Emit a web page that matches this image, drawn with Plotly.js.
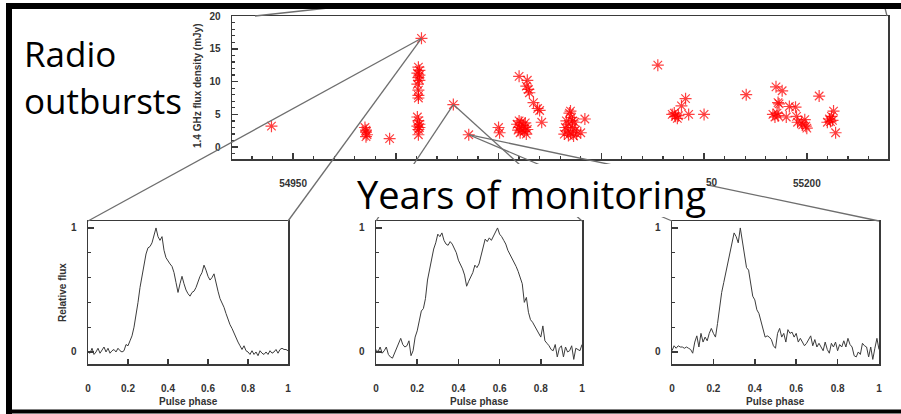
<!DOCTYPE html>
<html>
<head>
<meta charset="utf-8">
<script src="https://cdn.plot.ly/plotly-3.0.1.min.js"></script>
<style>
  html, body { margin: 0; padding: 0; background: #fff; }
  #chart { width: 901px; height: 414px; }
</style>
</head>
<body>
<div id="chart"></div>
<script>
// ---- Radio monitoring: 1.4 GHz flux density per epoch (MJD, mJy) ----
const mjd = [
  54939.5,
  54985.0, 54985.5, 54985.5, 54986.0, 54985.5,
  54997.0,
  55011.0, 55011.5, 55010.5, 55011.5, 55011.0, 55011.5, 55010.5, 55011.0, 55011.0, 55011.0,
  55010.5, 55011.0, 55011.5, 55010.5, 55011.5, 55011.0, 55011.0,
  55012.5, 55028.0, 55035.5,
  55050.0, 55050.5,
  55059.0, 55059.5, 55060.0, 55060.5, 55061.0, 55061.5, 55062.0, 55062.5, 55063.0, 55063.5, 55064.0, 55060.0, 55063.0,
  55060.0, 55064.0, 55063.5, 55064.5, 55065.0, 55067.0, 55069.0, 55070.0, 55071.0,
  55082.0, 55082.5, 55083.0, 55083.5, 55084.0, 55084.5, 55085.0, 55085.5, 55086.0, 55086.5, 55087.0, 55087.5, 55088.0, 55085.0, 55092.0, 55090.0, 55084.0, 55086.0,
  55127.5,
  55134.5, 55136.0, 55137.5, 55135.5, 55137.0, 55139.0, 55141.0, 55142.5, 55150.0,
  55170.5,
  55185.0, 55188.0, 55186.0, 55186.5, 55183.5, 55184.5, 55185.5, 55186.0, 55190.0, 55191.5, 55194.5, 55195.0, 55195.5, 55197.5, 55199.0, 55199.5, 55200.0, 55198.0,
  55206.0,
  55210.0, 55211.0, 55211.5, 55212.0, 55213.0, 55212.5, 55214.0
];
const flux = [
  3.2,
  3.0, 2.6, 2.3, 1.9, 1.6,
  1.3,
  12.2, 11.7, 11.3, 11.0, 10.6, 10.2, 9.6, 8.7, 7.9, 7.5,
  4.6, 4.0, 3.5, 3.2, 3.0, 2.7, 1.9,
  16.6, 6.5, 1.9,
  3.0, 2.2,
  3.5, 2.6, 3.0, 2.2, 3.8, 2.8, 3.3, 2.4, 3.0, 2.0, 2.7, 4.0, 3.7,
  10.8, 10.2, 9.3, 8.8, 8.3, 6.8, 5.9, 5.6, 3.8,
  2.0, 3.0, 4.0, 2.5, 3.5, 5.2, 2.2, 4.5, 3.0, 1.7, 3.8, 2.6, 2.0, 5.5, 4.3, 2.2, 1.8, 4.0,
  12.5,
  5.0, 4.7, 4.8, 5.2, 4.4, 6.3, 7.4, 5.0, 5.0,
  8.0,
  9.2, 8.6, 6.8, 6.6, 5.0, 4.6, 5.2, 4.8, 4.6, 6.2, 6.1, 4.7, 3.8, 3.7, 4.2, 3.2, 2.9, 3.4,
  7.8,
  3.8, 4.3, 3.9, 4.7, 5.5, 4.1, 2.2
];

// Epochs whose pulse profiles are shown below (left, middle, right)
const profileEpochMjd  = [55012.5, 55028.0, 55035.5];
const profileEpochFlux = [16.6, 6.5, 1.9];

// MJD tick marks; the caption box hides the middle labels, leaving the tail of 55150
const mjdTickVals  = [54950, 55000, 55050, 55100, 55150, 55200];
const mjdTickText  = ['54950', '', '', '', '', '55200'];
const mjdTailText  = '50';

// ---- Pulse profiles (relative flux vs pulse phase) ----
const phase = [
  0.00,0.01,0.02,0.03,0.04,0.05,0.06,0.07,0.08,0.09,
  0.10,0.11,0.12,0.13,0.14,0.15,0.16,0.17,0.18,0.19,
  0.20,0.21,0.22,0.23,0.24,0.25,0.26,0.27,0.28,0.29,
  0.30,0.31,0.32,0.33,0.34,0.35,0.36,0.37,0.38,0.39,
  0.40,0.41,0.42,0.43,0.44,0.45,0.46,0.47,0.48,0.49,
  0.50,0.51,0.52,0.53,0.54,0.55,0.56,0.57,0.58,0.59,
  0.60,0.61,0.62,0.63,0.64,0.65,0.66,0.67,0.68,0.69,
  0.70,0.71,0.72,0.73,0.74,0.75,0.76,0.77,0.78,0.79,
  0.80,0.81,0.82,0.83,0.84,0.85,0.86,0.87,0.88,0.89,
  0.90,0.91,0.92,0.93,0.94,0.95,0.96,0.97,0.98,0.99,
  1.00
];
const profile1 = [
  0.00,-0.01,0.03,-0.02,0.00,0.03,-0.01,0.02,0.04,0.00,
  0.03,-0.01,0.01,0.02,0.00,0.03,0.01,0.00,0.01,0.06,
  0.05,0.09,0.13,0.20,0.29,0.40,0.52,0.62,0.70,0.79,
  0.84,0.85,0.88,0.94,1.00,0.93,0.90,0.93,0.82,0.76,
  0.73,0.71,0.69,0.64,0.56,0.48,0.55,0.61,0.55,0.50,
  0.47,0.45,0.48,0.49,0.52,0.57,0.61,0.64,0.70,0.66,
  0.61,0.58,0.60,0.63,0.55,0.49,0.43,0.40,0.36,0.31,
  0.26,0.22,0.19,0.15,0.11,0.08,0.05,0.02,0.05,0.01,
  0.00,-0.02,0.01,-0.02,0.00,-0.03,0.01,-0.01,-0.02,0.00,
  -0.02,0.01,-0.01,0.00,0.02,-0.01,0.02,0.03,0.02,0.02,
  0.01
];
const profile2 = [
  0.02,0.00,0.04,-0.01,0.01,0.04,-0.02,-0.04,-0.05,-0.01,
  0.02,0.06,0.11,0.06,0.04,0.05,0.09,-0.03,0.01,0.12,
  0.17,0.25,0.33,0.35,0.43,0.58,0.66,0.74,0.83,0.88,
  0.95,0.93,0.96,0.90,0.87,0.86,0.89,0.87,0.83,0.80,
  0.74,0.71,0.67,0.62,0.53,0.57,0.60,0.64,0.70,0.68,
  0.71,0.77,0.84,0.91,0.89,0.92,0.90,0.93,0.96,1.00,
  0.95,0.93,0.90,0.87,0.82,0.79,0.76,0.73,0.69,0.65,
  0.59,0.55,0.40,0.44,0.32,0.26,0.24,0.21,0.18,0.15,
  0.12,0.21,0.09,0.07,0.05,0.02,0.01,0.06,-0.04,0.03,
  0.05,-0.04,0.04,0.00,0.01,0.05,-0.06,0.03,0.02,0.01,
  0.06
];
const profile3 = [
  0.01,0.05,0.03,0.05,0.04,0.04,0.03,0.04,0.03,0.02,
  -0.01,0.08,0.13,0.04,0.15,0.08,0.12,0.09,0.15,0.19,
  0.15,0.12,0.23,0.36,0.48,0.56,0.64,0.74,0.82,0.89,
  0.96,0.93,0.88,1.00,0.89,0.79,0.68,0.66,0.56,0.45,
  0.42,0.34,0.31,0.24,0.18,0.12,0.13,0.12,0.10,0.05,
  0.03,0.15,0.19,0.12,0.15,0.08,0.18,0.15,0.16,0.12,
  0.15,0.08,0.11,0.08,0.05,0.07,0.10,0.13,0.05,0.10,
  0.04,0.07,0.04,0.01,0.08,0.02,-0.01,0.07,0.04,0.08,
  0.01,0.06,0.04,0.09,0.04,0.11,0.06,0.04,-0.03,-0.04,
  0.00,-0.02,0.07,0.05,0.04,-0.04,0.04,-0.06,0.03,0.11,
  0.02
];

// ---- Page geometry (pixels) ----
const W = 901, H = 414;
const px = v => v / W;          // pixel x -> paper x
const py = v => 1 - v / H;      // pixel y -> paper y

const tickFont  = { family: 'Liberation Sans, Arial, sans-serif', size: 10, color: '#333', weight: 'bold' };
const bigFont   = { family: 'Open Sans, Noto Sans, sans-serif', size: 35, color: '#000' };
const frameCol  = '#3a3a3a';

function frameAxis(extra) {
  return Object.assign({
    showline: true, mirror: true, linecolor: frameCol, linewidth: 1.5,
    showgrid: false, zeroline: false, ticks: 'inside', tickcolor: frameCol,
    tickwidth: 1.5, tickfont: tickFont, fixedrange: true
  }, extra);
}

const layout = {
  width: W, height: H,
  margin: { l: 0, r: 0, t: 0, b: 0, pad: 0 },
  paper_bgcolor: '#fff', plot_bgcolor: '#fff',
  showlegend: false,
  // flux monitoring panel
  xaxis: frameAxis({
    domain: [px(232), px(888)], range: [54920.3, 55239.5], anchor: 'y',
    tickvals: mjdTickVals, ticktext: mjdTickText, ticklen: 6, ticklabelstandoff: 14,
    minor: { ticks: 'inside', dtick: 10, tick0: 54950, ticklen: 3, tickcolor: frameCol, tickwidth: 1.2 }
  }),
  yaxis: frameAxis({
    domain: [py(159), py(16)], range: [-1.8, 20], anchor: 'x',
    tick0: 0, dtick: 5, ticklen: 6, ticklabelstandoff: 8,
    minor: { ticks: 'inside', dtick: 1, ticklen: 3, tickcolor: frameCol, tickwidth: 1.2 }
  })
};

// pulse profile panels
const panelX = [[88, 288], [376, 582], [672, 879]];
const profiles = [profile1, profile2, profile3];
panelX.forEach((p, i) => {
  const n = i + 2;
  layout['xaxis' + n] = frameAxis({
    domain: [px(p[0]), px(p[1])], range: [0, 1], anchor: 'y' + n,
    tick0: 0, dtick: 0.2, ticklen: 5, ticklabelstandoff: 14
  });
  layout['yaxis' + n] = frameAxis({
    domain: [py(364), py(221)], range: [-0.097, 1.056], anchor: 'x' + n,
    tickvals: [0, 1], ticktext: ['0', '1'], ticklen: 6, ticklabelstandoff: 8,
    minor: { ticks: 'inside', tickvals: [0.2, 0.4, 0.6, 0.8], ticklen: 3, tickcolor: frameCol, tickwidth: 1.2 }
  });
});

const traces = [{
  type: 'scatter', mode: 'markers', x: mjd, y: flux, xaxis: 'x', yaxis: 'y',
  marker: { symbol: 'asterisk-open', size: 10, color: 'rgba(255,0,0,0.75)',
            line: { color: 'rgba(255,0,0,0.75)', width: 1.2 } },
  cliponaxis: true, hoverinfo: 'skip'
}];
profiles.forEach((prof, i) => {
  const n = i + 2;
  traces.push({
    type: 'scatter', mode: 'lines', x: phase, y: prof,
    xaxis: 'x' + n, yaxis: 'y' + n,
    line: { color: '#3c3c3c', width: 1 }, hoverinfo: 'skip'
  });
});

// map a data value on an axis to paper coordinates
function toPaper(axName, v) {
  const a = layout[axName];
  return a.domain[0] + (v - a.range[0]) / (a.range[1] - a.range[0]) * (a.domain[1] - a.domain[0]);
}

const shapes = [];
const linkStyle = { color: '#6e6e6e', width: 1.3 };
// zoom lines from each highlighted epoch to the top corners of its profile panel
profileEpochMjd.forEach((m, i) => {
  const sx = toPaper('xaxis', m), sy = toPaper('yaxis', profileEpochFlux[i]);
  const ax = layout['xaxis' + (i + 2)], ay = layout['yaxis' + (i + 2)];
  [ax.domain[0], ax.domain[1]].forEach(cx => {
    shapes.push({ type: 'line', xref: 'paper', yref: 'paper', layer: 'above',
                  x0: sx, y0: sy, x1: cx, y1: ay.domain[1], line: linkStyle });
  });
});
// short guide strokes along the top edge
shapes.push({ type: 'line', xref: 'paper', yref: 'paper', layer: 'above',
              x0: px(255), y0: py(16), x1: px(328), y1: py(8), line: linkStyle });
shapes.push({ type: 'line', xref: 'paper', yref: 'paper', layer: 'above',
              x0: px(887), y0: py(16), x1: px(885), y1: py(8), line: linkStyle });
// white label box behind the caption
shapes.push({ type: 'rect', xref: 'paper', yref: 'paper', layer: 'above',
              x0: px(350), x1: px(708), y0: py(217), y1: py(164),
              fillcolor: '#fff', line: { width: 0 } });
// slide border
shapes.push({ type: 'line', xref: 'paper', yref: 'paper', layer: 'above',
              x0: px(6), x1: 1, y0: py(6), y1: py(6), line: { color: '#000', width: 6 } });
shapes.push({ type: 'line', xref: 'paper', yref: 'paper', layer: 'above',
              x0: px(9), x1: px(9), y0: py(3), y1: 0, line: { color: '#000', width: 6 } });
shapes.push({ type: 'line', xref: 'paper', yref: 'paper', layer: 'above',
              x0: px(6), x1: 1, y0: py(411.5), y1: py(411.5), line: { color: '#000', width: 4 } });
layout.shapes = shapes;

const titleFont = { family: 'Liberation Sans, Arial, sans-serif', size: 10, color: '#333', weight: 'bold' };
const ann = (text, x, y, extra) => Object.assign({
  text, xref: 'paper', yref: 'paper', x: px(x), y: py(y),
  showarrow: false, xanchor: 'center', yanchor: 'middle', borderpad: 0
}, extra);

// visible tail of the 55150 label, sitting just right of the caption box
const tailX = toPaper('xaxis', 55150);

layout.annotations = [
  ann('1.4 GHz flux density (mJy)', 197, 86, { textangle: -90, font: titleFont }),
  ann('Relative flux', 62, 293, { textangle: -90, font: titleFont }),
  ann('Pulse phase', 188, 401, { font: titleFont }),
  ann('Pulse phase', 479, 401, { font: titleFont }),
  ann('Pulse phase', 775, 401, { font: titleFont }),
  { text: mjdTailText, xref: 'paper', yref: 'paper', x: tailX + px(15), y: py(183),
    xanchor: 'right', yanchor: 'middle', showarrow: false, borderpad: 0, font: tickFont },
  ann('Radio', 23, 53, { xanchor: 'left', font: bigFont }),
  ann('outbursts', 23, 101, { xanchor: 'left', font: bigFont }),
  ann('Years of monitoring', 356, 194, { xanchor: 'left', font: Object.assign({}, bigFont, { size: 38 }) })
];

Plotly.newPlot('chart', traces, layout, { displayModeBar: false, staticPlot: true });
</script>
</body>
</html>
